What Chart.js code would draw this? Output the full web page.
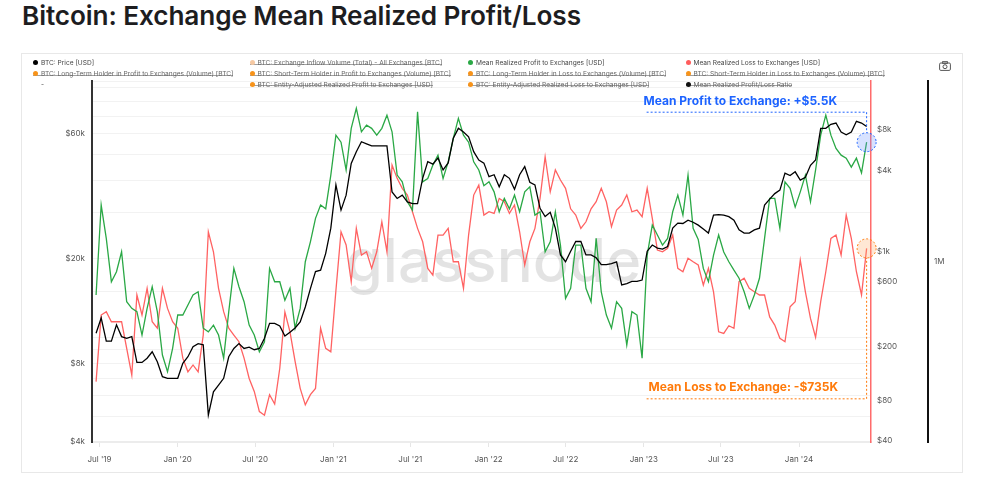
<!DOCTYPE html>
<html><head><meta charset="utf-8">
<script src="https://cdn.jsdelivr.net/npm/chart.js@4.4.1/dist/chart.umd.min.js"></script>
<style>
html,body{margin:0;padding:0;background:#fff;}
body{width:984px;height:500px;position:relative;overflow:hidden;font-family:Inter,"Noto Sans",sans-serif;}
#title{position:absolute;left:22px;top:0px;font-size:26.2px;font-weight:600;color:#1d1d1f;white-space:nowrap;letter-spacing:-0.1px;}
#panel{position:absolute;left:21px;top:53px;width:942px;height:420px;border:1px solid #e8e8e8;box-sizing:border-box;}
#legend{position:absolute;left:0;top:0;width:984px;height:100px;font-size:6.6px;color:#444;z-index:2;}
.li{position:absolute;white-space:nowrap;line-height:10px;height:10px;padding-left:0;}
.dot{display:inline-block;width:5px;height:5px;border-radius:50%;margin-right:3px;vertical-align:0px}
.off{color:#666;background:linear-gradient(#888,#888) no-repeat 0 58%/100% 0.8px;}
#cam{position:absolute;left:939px;top:61px;}
canvas{position:absolute;left:0;top:0;}
</style>
</head><body>
<div id="title">Bitcoin: Exchange Mean Realized Profit/Loss</div>
<div id="panel"></div>
<div id="legend"></div>
<svg id="cam" width="12" height="10" viewBox="0 0 12 10"><rect x="0.6" y="2" width="10.8" height="7.4" rx="1.2" fill="none" stroke="#555" stroke-width="1"/><rect x="3.6" y="0.6" width="4.8" height="1.8" fill="none" stroke="#555" stroke-width="0.9"/><circle cx="6" cy="5.7" r="2" fill="none" stroke="#555" stroke-width="1"/></svg>
<canvas id="c" width="984" height="500"></canvas>
<script>
// ---- sampling grid (every 12 days from the first sample) ----
const firstSampleDate = '2019-06-23';
const sampleStepDays = 12;

// ---- series values ----
const price = [
10400,11900,9700,9700,11200,10100,9950,10100,8050,8050,
8350,8840,8100,7100,7000,7000,7000,7990,8460,9240,
9500,9400,5070,6220,6600,7000,8460,9100,9500,9100,
9200,9000,9100,9950,11350,11350,11100,10150,10500,10900,
11500,13100,15400,17900,18100,21000,26200,38300,30700,35000,
46300,51300,56000,55000,54000,54000,54000,54000,36000,34000,
35000,33000,32500,32500,40600,47000,46000,48500,43700,46500,
57700,63000,61000,58500,51300,47700,46400,41200,41900,37700,
41900,40600,36900,41900,45000,39200,38300,31200,29000,30100,
26200,20700,19500,21400,23300,23300,20700,20700,20200,19000,
19000,19200,19500,15900,16100,16400,16400,16600,21400,22600,
22000,21800,22300,26200,27400,27300,28100,27600,26900,26000,
25100,29400,29500,29400,29000,28100,25800,25100,25100,25800,
26200,32100,33800,35500,36600,42500,41600,43000,40000,41000,
45500,47700,63000,63000,65300,66000,61000,59500,61000,67000,
66000,64000];

const meanProfit = [
481,2228,1262,603,715,1005,429,383,362,243,
383,554,362,173,130,194,342,342,406,481,
508,273,257,288,243,164,362,757,554,429,
288,243,183,217,757,603,603,440,539,273,
383,848,1191,1775,2228,2090,3710,7330,6500,4050,
8230,11560,7760,8690,8230,7330,8230,10300,7760,3710,
3310,2356,2045,10900,3310,3500,4400,5210,3500,4650,
6930,9750,7330,6500,4650,4050,3100,3310,2790,1987,
2495,2090,2640,1987,2790,3040,1877,1987,1005,1191,
1987,1127,454,539,1127,1127,539,429,1262,508,
342,273,429,383,205,362,342,164,950,1585,
1336,1127,1262,1987,2640,1877,3710,1497,1240,757,
603,950,1336,1000,848,734,640,508,383,481,
640,1262,2495,2495,1497,3310,2960,2150,2790,3710,
2356,4050,7330,10300,7330,5850,5210,4950,4250,4950,
3850,6500];

const meanLoss = [
110,342,362,305,305,305,194,123,481,342,
539,305,273,539,383,305,273,164,130,146,
130,243,1413,1005,539,362,273,243,217,164,
116,93,66,62,88,75,138,360,257,155,
98,74,88,98,273,194,183,520,1413,1127,
603,1497,950,1005,757,1005,1675,1005,4400,3510,
2960,2640,1987,1497,1191,757,676,1336,1336,1497,
848,848,539,1336,2640,3130,1877,1987,1930,2495,
2356,1930,2228,1413,802,1191,1497,2495,5070,2790,
4050,3410,2960,2090,1877,1497,1675,2090,2356,2960,
2356,1540,2045,2228,2640,1987,2045,1830,2960,1775,
1035,1005,1065,1336,757,715,900,848,802,570,
757,508,257,250,285,273,603,640,539,508,
481,481,331,288,230,217,394,429,873,508,
323,234,429,715,1262,1336,950,1877,1262,715,
481,1065];

// ---- tick labels ----
const xTickDates = ['2019-07-01','2020-01-01','2020-07-01','2021-01-01','2021-07-01','2022-01-01','2022-07-01','2023-01-01','2023-07-01','2024-01-01'];
const priceTicks = [4000, 8000, 20000, 60000];
const plTicks = [40, 80, 200, 600, 1000, 4000, 8000];
const volumeTicks = [1000000];
const xRange = ['2019-06-13T10:00:00Z', '2024-06-18T07:00:00Z'];

// ---- legend ----
const legendLabels = [
 'BTC: Price [USD]',
 'BTC: Exchange Inflow Volume (Total) - All Exchanges [BTC]',
 'Mean Realized Profit to Exchanges [USD]',
 'Mean Realized Loss to Exchanges [USD]',
 'BTC: Long-Term Holder in Profit to Exchanges (Volume) [BTC]',
 'BTC: Short-Term Holder in Profit to Exchanges (Volume) [BTC]',
 'BTC: Long-Term Holder in Loss to Exchanges (Volume) [BTC]',
 'BTC: Short-Term Holder in Loss to Exchanges (Volume) [BTC]',
 '-',
 'BTC: Entity-Adjusted Realized Profit to Exchanges [USD]',
 'BTC: Entity-Adjusted Realized Loss to Exchanges [USD]',
 'Mean Realized Profit/Loss Ratio'];
const legendColors = ['#000','#f6c9a3','#2aa845','#ff5c5c','#f7931a','#f7931a','#f7931a','#f7931a',null,'#f7931a','#f7931a','#111'];
const legendHidden = [false,true,false,false,true,true,true,true,false,true,true,true];

const annotationTexts = {profit:'Mean Profit to Exchange: +$5.5K', loss:'Mean Loss to Exchange: -$735K'};

// build legend
(function(){
  const colX=[33,249.5,468,685.5], rowY=[58.3,69.3,80];
  const lg=document.getElementById('legend');
  legendLabels.forEach((t,k)=>{
    const d=document.createElement('div');
    d.className='li'+(legendHidden[k]?' off':'');
    d.style.left=(colX[k%4]+(legendColors[k]?0:8))+'px';
    d.style.top=rowY[Math.floor(k/4)]+'px';
    if(legendColors[k]){const s=document.createElement('span');s.className='dot';s.style.background=legendColors[k];d.appendChild(s);}
    d.appendChild(document.createTextNode(t));
    lg.appendChild(d);
  });
})();

const DAY=86400000;
const t0=Date.parse(firstSampleDate+'T00:00:00Z');
const dates = price.map((_,i)=>new Date(t0+i*sampleStepDays*DAY).toISOString().slice(0,10));
const toPts = arr => arr.map((v,i)=>({x:Date.parse(dates[i]+'T00:00:00Z'), y:v}));
const fmtUsd = v => v>=1000 ? '$'+(v/1000)+'k' : '$'+v;
const months=['Jan','Feb','Mar','Apr','May','Jun','Jul','Aug','Sep','Oct','Nov','Dec'];

const watermark={id:'wm',beforeDatasetsDraw(chart){
  const {ctx,chartArea:a}=chart; ctx.save();
  ctx.font='500 60px Inter'; ctx.fillStyle='rgba(0,0,0,0.11)';
  ctx.textAlign='center'; ctx.textBaseline='alphabetic';
  ctx.fillText('glassnode', (a.left+a.right)/2+12, a.top+201);
  ctx.restore();}};

const callouts={id:'callouts',afterDatasetsDraw(chart){
  const {ctx}=chart; const yPL=chart.scales.yPL;
  const mp=chart.getDatasetMeta(1).data, ml=chart.getDatasetMeta(2).data;
  const P=mp[mp.length-1], L=ml[ml.length-1];
  function draw(cx,cy,lineY,color,fill,text,textDx){
    const r=9.5; ctx.save();
    ctx.setLineDash([2,2]); ctx.lineWidth=1; ctx.strokeStyle=color;
    ctx.beginPath(); ctx.moveTo(cx-220,lineY); ctx.lineTo(cx,lineY);
    ctx.lineTo(cx, lineY<cy? cy-r : cy+r); ctx.stroke();
    ctx.beginPath(); ctx.arc(cx,cy,r,0,Math.PI*2); ctx.fillStyle=fill; ctx.fill(); ctx.stroke();
    ctx.setLineDash([]);
    ctx.font='700 12px Inter'; ctx.fillStyle=color; ctx.textAlign='left'; ctx.textBaseline='middle';
    ctx.fillText(text, cx-220+textDx, lineY-11);
    ctx.restore();}
  draw(P.x,P.y,P.y-30,'#1d63ff','rgba(110,150,255,0.28)',annotationTexts.profit,-3);
  draw(L.x,L.y,yPL.getPixelForValue(82),'#ff7a0a','rgba(255,170,100,0.28)',annotationTexts.loss,2);
}};

const tickFont={family:'Inter',size:8};
new Chart(document.getElementById('c'),{
  type:'line',
  data:{datasets:[
    {label:legendLabels[0],data:toPts(price),yAxisID:'yPrice',borderColor:'#000',borderWidth:1.3,pointRadius:0,tension:0},
    {label:legendLabels[2],data:toPts(meanProfit),yAxisID:'yPL',borderColor:'#2aa845',borderWidth:1.3,pointRadius:0,tension:0},
    {label:legendLabels[3],data:toPts(meanLoss),yAxisID:'yPL',borderColor:'#ff6262',borderWidth:1.3,pointRadius:0,tension:0}
  ]},
  options:{
    responsive:false,animation:false,devicePixelRatio:1,
    layout:{padding:{top:81,left:0,right:16,bottom:28}},
    plugins:{legend:{display:false},tooltip:{enabled:false}},
    scales:{
      x:{type:'linear',min:Date.parse(xRange[0]),max:Date.parse(xRange[1]),
        afterBuildTicks:s=>{s.ticks=xTickDates.map(d=>({value:Date.parse(d+'T00:00:00Z')}));},
        afterFit:s=>{s.height=30;},
        ticks:{autoSkip:false,maxRotation:0,padding:8,color:'#555',font:tickFont,
          callback:v=>{const d=new Date(v);return months[d.getUTCMonth()]+" '"+String(d.getUTCFullYear()).slice(2);}},
        grid:{drawOnChartArea:false,drawTicks:true,tickLength:5,color:'#e6e6e6'},
        border:{display:true,color:'#ececec',width:2}},
      yPrice:{type:'logarithmic',position:'left',min:4000,max:95500,
        afterFit:s=>{s.width=92;},
        ticks:{autoSkip:false,padding:7,color:'#555',font:tickFont,
          callback:v=>priceTicks.includes(v)?fmtUsd(v):''},
        grid:{drawOnChartArea:true,drawTicks:false,color:'#f2f2f2'},
        border:{display:true,color:'#333',width:2}},
      yPL:{type:'logarithmic',position:'right',min:39.3,max:18440,
        afterFit:s=>{s.width=57;},
        afterBuildTicks:s=>{s.ticks=plTicks.map(v=>({value:v}));},
        ticks:{autoSkip:false,padding:6,color:'#555',font:tickFont,callback:v=>fmtUsd(v)},
        grid:{drawOnChartArea:false,drawTicks:false},
        border:{display:true,color:'#ff6b6b',width:1.5}},
      yVol:{type:'logarithmic',position:'right',min:1e4,max:1e8,
        afterFit:s=>{s.width=40;},
        afterBuildTicks:s=>{s.ticks=volumeTicks.map(v=>({value:v}));},
        ticks:{autoSkip:false,padding:6,color:'#555',font:tickFont,callback:v=>(v/1e6)+'M'},
        grid:{drawOnChartArea:false,drawTicks:false},
        border:{display:true,color:'#111',width:2}}
    }
  },
  plugins:[watermark,callouts]
});
</script>
</body></html>
